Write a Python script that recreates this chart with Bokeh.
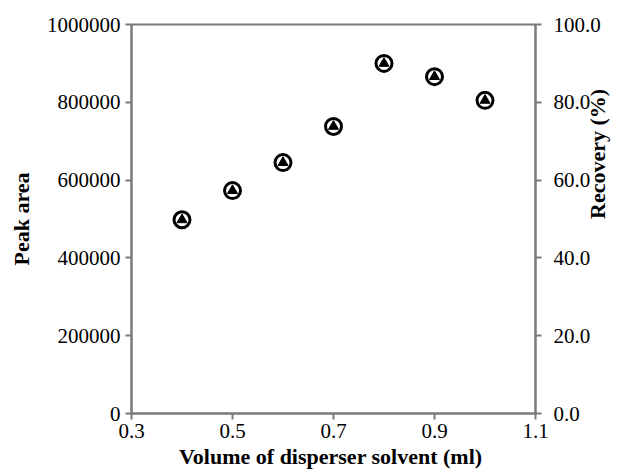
import math
from bokeh.plotting import figure
from bokeh.models import LinearAxis, Range1d, FixedTicker, PrintfTickFormatter
from bokeh.embed import file_html
from bokeh.resources import INLINE

volume = [0.4, 0.5, 0.6, 0.7, 0.8, 0.9, 1.0]
peak_area = [498000, 573000, 645000, 738000, 900000, 866000, 805000]
recovery = [49.8, 57.3, 64.5, 73.8, 90.0, 86.6, 80.5]

x_ticks = [0.3, 0.5, 0.7, 0.9, 1.1]
left_ticks = [0, 200000, 400000, 600000, 800000, 1000000]
right_ticks = [0, 20, 40, 60, 80, 100]

x_title = "Volume of disperser  solvent (ml)"
left_title = "Peak area"
right_title = "Recovery (%)"

FONT = "Liberation Serif"
AX = "#7a7a7a"

p = figure(width=626, height=471, x_range=Range1d(0.3, 1.1), y_range=Range1d(0, 1000000),
           output_backend="svg", toolbar_location=None,
           min_border_left=131, min_border_right=91, min_border_top=24, min_border_bottom=58)
p.extra_y_ranges = {"rec": Range1d(0, 100)}
p.grid.visible = False
p.outline_line_color = AX
p.outline_line_width = 2
p.background_fill_color = "white"
p.border_fill_color = "white"

p.scatter(volume, peak_area, marker="circle", size=16, line_color="black", line_width=3,
          fill_color=None)
p.scatter(volume, recovery, y_range_name="rec", marker="triangle", size=10,
          line_color="black", fill_color="black")

ax = p.xaxis[0]
ax.ticker = FixedTicker(ticks=x_ticks)
ax.axis_label = x_title

ay = p.yaxis[0]
ay.ticker = FixedTicker(ticks=left_ticks)
ay.formatter = PrintfTickFormatter(format="%d")
ay.axis_label = left_title

ar = LinearAxis(y_range_name="rec", ticker=FixedTicker(ticks=right_ticks),
                formatter=PrintfTickFormatter(format="%.1f"))
p.add_layout(ar, "right")

# second right axis carries only the title (no line, no ticks)
ar2 = LinearAxis(y_range_name="rec", ticker=FixedTicker(ticks=[]), axis_label=right_title,
                 bounds=(0, 67.4))
p.add_layout(ar2, "right")

for a in (ax, ay, ar, ar2):
    a.axis_line_color = AX
    a.axis_line_width = 2
    a.major_tick_line_color = AX
    a.major_tick_line_width = 2
    a.major_tick_in = 0
    a.major_tick_out = 6
    a.minor_tick_line_color = None
    a.major_label_text_font = FONT
    a.major_label_text_font_size = "21px"
    a.major_label_text_color = "black"
    a.axis_label_text_font = FONT
    a.axis_label_text_font_size = "22px"
    a.axis_label_text_font_style = "bold"
    a.axis_label_text_color = "black"
    a.axis_label_text_line_height = 1.0

ar2.axis_line_color = None
ar2.major_tick_line_color = None
ar2.major_tick_out = 0
ar2.axis_label_orientation = math.pi / 2

ax.major_label_standoff = 4
ax.axis_label_standoff = 3
ay.major_label_standoff = 5
ay.axis_label_standoff = 10
ar.major_label_standoff = 12
ar2.axis_label_standoff = -6

open("out.html", "w").write(file_html(p, INLINE))
